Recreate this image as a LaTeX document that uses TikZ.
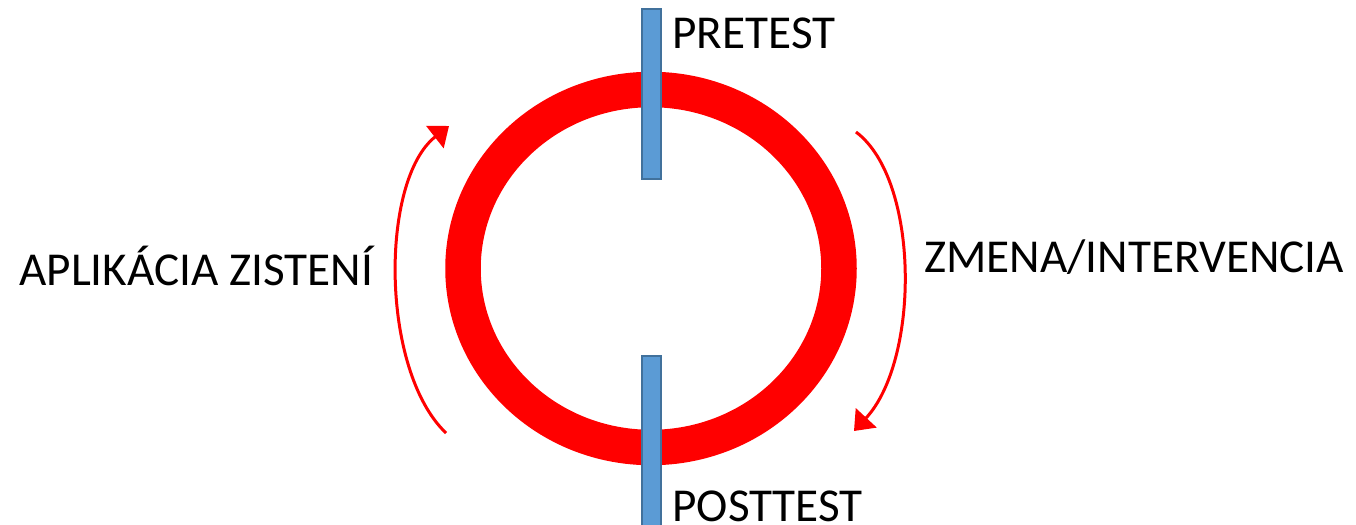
\documentclass[tikz,border=0pt]{standalone}
\usepackage{fontspec}
\setmainfont{Carlito}
\usepackage{xcolor}
\usepackage{tikz}
\usetikzlibrary{arrows.meta, positioning, shapes.geometric}
\definecolor{cyclered}{HTML}{FF0000}
\definecolor{testblue}{HTML}{5B9BD5}
\definecolor{testedge}{HTML}{41719C}

\begin{document}
\begin{tikzpicture}[x=0.5pt, y=-0.5pt, >={Triangle[length=9pt, width=14pt]}, font=\fontsize{23.6}{28}\selectfont]
    \tikzset{
        testbar/.style={draw=testedge, fill=testblue, line width=0.8pt, minimum width=9.5pt, inner sep=0pt},
        phase/.style={anchor=base west, inner sep=0pt},
        turn/.style={->, cyclered, line width=1.5pt}
    }
    \useasboundingbox (0,0) rectangle (1356,525);

    \node[draw=cyclered, line width=17.75pt, ellipse, inner sep=0pt, minimum width=188pt, minimum height=179pt] (ring) at (651,268.5) {};

    \node[testbar, minimum height=85pt] (pretest) at (651.5,94) {};
    \node[testbar, minimum height=90pt] (posttest) at (651.5,446) {};

    \node[phase] (pretxt) at (672,48) {PRETEST};
    \node[phase] (posttxt) at (672,521) {POSTTEST};
    \node[phase] (apply) at (19,285) {APLIKÁCIA ZISTENÍ};
    \node[phase] (change) at (924,272) {ZMENA/INTERVENCIA};

    \coordinate (lstart) at (446,433);
    \coordinate (lend) at (449,126);
    \coordinate (rstart) at (856,132);
    \coordinate (rend) at (854,431);
    \draw[turn] (lstart) .. controls (380,370) and (380,180) .. (lend);
    \draw[turn] (rstart) .. controls (920,180) and (920,360) .. (rend);
\end{tikzpicture}
\end{document}
